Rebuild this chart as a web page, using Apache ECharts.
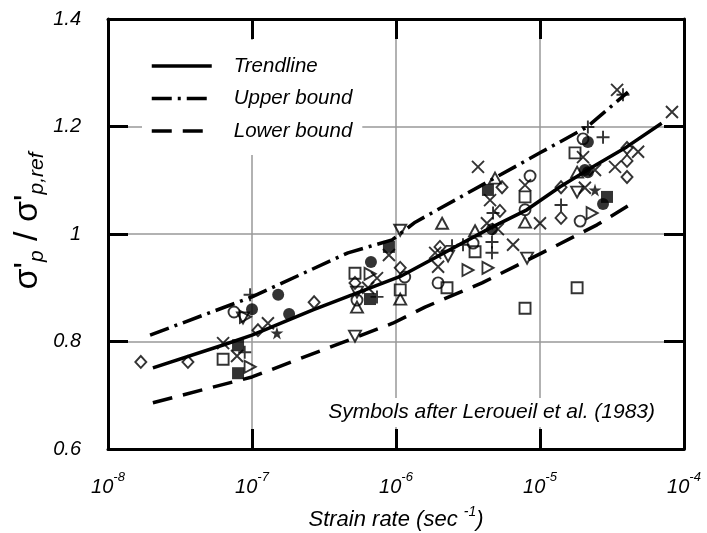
<!DOCTYPE html>
<html><head><meta charset="utf-8">
<script src="https://cdn.jsdelivr.net/npm/echarts@6/dist/echarts.min.js"></script>
<style>html,body{margin:0;padding:0;background:#fff}#c{width:707px;height:533px}</style>
</head><body><div id="c"></div>
<script>
// ---- tick labels ----
const xTickExponents = [-8, -7, -6, -5, -4];
const yTicks = [0.6, 0.8, 1.0, 1.2, 1.4];

// ---- curves [strain rate, ratio] ----
const trendLine = [[2.05e-8,0.751],[6.3e-8,0.7935],[1e-7,0.812],[2.65e-7,0.859],[5.0e-7,0.887],[1.07e-6,0.921],[4.5e-6,1.011],[8.1e-6,1.045],[1.38e-5,1.088],[2.33e-5,1.125],[4.0e-5,1.162],[7.0e-5,1.206]];
const upperBound = [[1.96e-8,0.812],[1e-7,0.883],[4.64e-7,0.965],[9.4e-7,0.989],[1.36e-6,1.022],[1e-5,1.151],[2.12e-5,1.199],[4.08e-5,1.264]];
const lowerBound = [[2.05e-8,0.686],[1e-7,0.734],[9.5e-7,0.834],[1.59e-6,0.864],[3.96e-6,0.909],[1e-5,0.963],[2.49e-5,1.017],[4.72e-5,1.063]];

// ---- data points by symbol ----
const diamondPts = [[1.69e-8,0.762],[3.59e-8,0.762],[1.1e-7,0.821],[2.7e-7,0.873],[5.19e-7,0.909],[1.07e-6,0.937],[2.02e-6,0.976],[5.27e-6,1.043],[5.45e-6,1.087],[1.40e-5,1.087],[1.40e-5,1.030],[4.02e-5,1.160],[4.02e-5,1.136],[4.02e-5,1.106]];
const openCirclePts = [[7.5e-8,0.855],[5.36e-7,0.877],[1.15e-6,0.920],[1.96e-6,0.909],[3.43e-6,0.983],[7.87e-6,1.045],[8.53e-6,1.108],[1.99e-5,1.177],[1.90e-5,1.024]];
const filledCirclePts = [[1.0e-7,0.860],[1.52e-7,0.887],[1.81e-7,0.851],[6.7e-7,0.948],[4.64e-6,1.009],[2.15e-5,1.171],[2.05e-5,1.119],[2.15e-5,1.115],[2.74e-5,1.056]];
const openSquarePts = [[6.3e-8,0.767],[5.19e-7,0.927],[1.07e-6,0.896],[2.26e-6,0.900],[3.54e-6,0.967],[7.87e-6,1.069],[1.75e-5,1.151],[1.81e-5,0.900],[7.87e-6,0.862]];
const filledSquarePts = [[8.0e-8,0.793],[8.0e-8,0.741],[6.6e-7,0.879],[8.93e-7,0.976],[4.35e-6,1.082],[2.92e-5,1.069]];
const crossPts = [[6.3e-8,0.797],[7.87e-8,0.773],[1.29e-7,0.834],[6.4e-7,0.900],[7.38e-7,0.918],[8.93e-7,0.961],[1.87e-6,0.965],[1.96e-6,0.939],[3.71e-6,1.125],[4.5e-6,1.063],[4.28e-6,1.020],[5.1e-6,1.009],[6.5e-6,0.980],[7.87e-6,1.091],[1.0e-5,1.020],[1.99e-5,1.143],[2.05e-5,1.086],[2.41e-5,1.119],[3.32e-5,1.125],[4.8e-5,1.153],[3.43e-5,1.268],[8.25e-5,1.227]];
const plusPts = [[9.7e-8,0.887],[8.9e-8,0.780],[7.38e-7,0.883],[2.45e-6,0.978],[2.92e-6,0.980],[4.64e-6,0.985],[4.64e-6,0.965],[4.72e-6,1.039],[1.40e-5,1.054],[2.15e-5,1.199],[2.74e-5,1.180],[3.77e-5,1.259]];
const triUpPts = [[5.36e-7,0.864],[1.07e-6,0.879],[2.09e-6,1.020],[3.54e-6,1.006],[4.87e-6,1.104],[7.87e-6,1.022],[1.81e-5,1.115]];
const triDownPts = [[8.66e-8,0.844],[5.36e-7,0.892],[1.07e-6,1.007],[2.3e-6,0.959],[5.19e-7,0.810],[8.13e-6,0.955],[1.81e-5,1.078]];
const triRightPts = [[9.0e-8,0.846],[9.7e-8,0.753],[6.6e-7,0.926],[3.16e-6,0.933],[4.35e-6,0.937],[2.30e-5,1.039]];
const starPts = [[1.49e-7,0.816],[2.41e-5,1.082]];

const FF = "'Liberation Sans', Arial, sans-serif";
const INK = '#000';

function lineSeries(name, data, type) {
  return { name, type: 'line', data, symbol: 'none', showSymbol: false, smooth: false,
    lineStyle: { color: INK, width: 3.5, type, cap: 'butt' }, itemStyle: { color: INK }, z: 3 };
}
function scat(name, data, symbol, size, filled, rot) {
  return { name, type: 'scatter', data, symbol, symbolSize: size, symbolRotate: rot || 0,
    itemStyle: { color: filled ? INK : 'transparent', borderColor: INK, borderWidth: filled ? 0 : 1.9 },
    emphasis: { disabled: true }, z: 4 };
}
const XPATH = 'path://M0,0L10,10M10,0L0,10';
const PPATH = 'path://M5,0L5,10M0,5L10,5';
const STAR = 'path://M50,0L61,35L98,35L68,57L79,91L50,70L21,91L32,57L2,35L39,35Z';

const chart = echarts.init(document.getElementById('c'), null, { renderer: 'canvas' });
const it = (size, extra) => Object.assign({ fontSize: size, fontStyle: 'italic', fontWeight: 'normal', fontFamily: FF, color: INK }, extra || {});
const tickStyle = { show: true, inside: true, length: 20, lineStyle: { color: INK, width: 3 } };
const frame = { show: true, lineStyle: { color: INK, width: 3 } };

chart.setOption({
  animation: false,
  backgroundColor: '#fff',
  grid: { left: 108, right: 23, top: 19, bottom: 84, containLabel: false, outerBoundsMode: 'none' },
  legend: {
    data: ['Trendline', 'Upper bound', 'Lower bound'],
    orient: 'vertical', left: 142, top: 40,
    itemWidth: 60, itemHeight: 20, itemGap: 12.5,
    padding: [16, 10, 14, 8], backgroundColor: '#fff',
    selectedMode: false,
    itemStyle: { opacity: 0 },
    lineStyle: { width: 3.5 },
    textStyle: it(20.5, { padding: [0, 0, 0, 17] })
  },
  title: {
    text: 'Symbols after Leroueil et al. (1983)',
    right: 48, top: 398, padding: [4, 4],
    backgroundColor: '#fff',
    textStyle: it(21)
  },
  xAxis: [{
    type: 'log', logBase: 10, min: 1e-8, max: 1e-4, position: 'bottom',
    axisLine: frame, axisTick: tickStyle,
    splitLine: { show: true, lineStyle: { color: '#999', width: 1.5 } },
    axisLabel: {
      margin: 22, fontStyle: 'italic',
      formatter: v => { const e = Math.round(Math.log10(v)); return xTickExponents.includes(e) ? '{b|10}{s|' + e + '}' : ''; },
      rich: {
        b: it(20, { lineHeight: 26, verticalAlign: 'bottom' }),
        s: it(13, { lineHeight: 14, verticalAlign: 'top' })
      }
    },
    name: '{n|Strain rate (sec }{s|-1}{n|)}', nameLocation: 'middle', nameGap: 56,
    nameTextStyle: {
      fontStyle: 'italic',
      rich: {
        n: it(22, { lineHeight: 26, verticalAlign: 'bottom' }),
        s: it(14, { lineHeight: 14, verticalAlign: 'top' })
      }
    }
  }, {
    type: 'log', logBase: 10, min: 1e-8, max: 1e-4, position: 'top',
    axisLine: frame, axisTick: tickStyle, axisLabel: { show: false }, splitLine: { show: false }
  }],
  yAxis: [{
    type: 'value', min: yTicks[0], max: yTicks[yTicks.length - 1], interval: 0.2, position: 'left',
    axisLine: frame, axisTick: tickStyle,
    splitLine: { show: true, lineStyle: { color: '#999', width: 1.5 } },
    axisLabel: {
      margin: 27, fontStyle: 'italic',
      formatter: v => '{a|' + String(+v.toFixed(1)) + '}',
      rich: { a: it(20) }
    }
  }, {
    type: 'value', min: yTicks[0], max: yTicks[yTicks.length - 1], interval: 0.2, position: 'right',
    axisLine: frame, axisTick: tickStyle, axisLabel: { show: false }, splitLine: { show: false }
  }],
  graphic: [{
    type: 'text', x: 28, y: 221, rotation: Math.PI / 2,
    style: {
      text: "{m|σ'}{sub|p}{m| / σ'}{sub|p,ref}",
      align: 'center', verticalAlign: 'middle',
      rich: {
        m: { fontSize: 34, fontFamily: FF, fill: INK, lineHeight: 40 },
        sub: { fontSize: 21, fontFamily: FF, fontStyle: 'italic', fill: INK, lineHeight: 24, verticalAlign: 'bottom' }
      }
    }
  }],
  series: [
    lineSeries('Trendline', trendLine, 'solid'),
    lineSeries('Upper bound', upperBound, [20, 6, 3, 6]),
    lineSeries('Lower bound', lowerBound, [20, 11]),
    scat('diamond', diamondPts, 'diamond', [11, 12], false),
    scat('open circle', openCirclePts, 'circle', 11, false),
    scat('filled circle', filledCirclePts, 'circle', 12, true),
    scat('open square', openSquarePts, 'rect', 11, false),
    scat('filled square', filledSquarePts, 'rect', 12, true),
    scat('cross', crossPts, XPATH, 12, false),
    scat('plus', plusPts, PPATH, 13, false),
    scat('triangle up', triUpPts, 'triangle', [12, 11], false),
    scat('triangle down', triDownPts, 'triangle', [12, 11], false, 180),
    scat('triangle right', triRightPts, 'triangle', [12, 11], false, -90),
    scat('star', starPts, STAR, 13, true)
  ]
});
</script>
</body></html>
